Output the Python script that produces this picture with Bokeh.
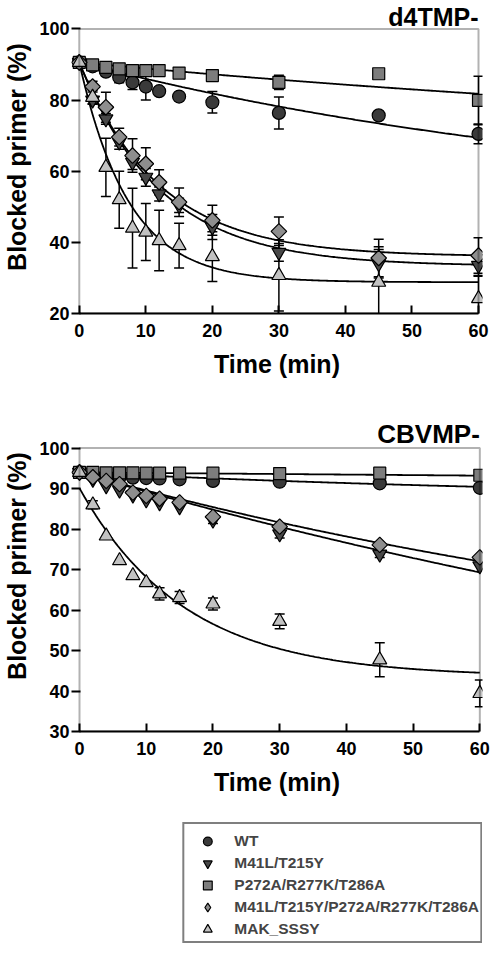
import numpy as np
from bokeh.plotting import figure
from bokeh.models import (Range1d, FixedTicker, Label,
                          Legend, LegendItem, BoxAnnotation)
from bokeh.layouts import column
from bokeh.embed import file_html
from bokeh.resources import INLINE

# ---------------- data ----------------
time_min = [0, 2, 4, 6, 8, 10, 12, 15, 20, 30, 45, 60]
series_names = ["WT", "M41L/T215Y", "P272A/R277K/T286A",
                "M41L/T215Y/P272A/R277K/T286A", "MAK_SSSY"]

# d4TMP- panel (blocked primer %)
d4_wt = [90.6, 89.5, 88.0, 86.4, 85.0, 83.8, 82.5, 81.0, 79.4, 76.4, 75.7, 70.5]
d4_wt_err = [0, 0.5, 1.0, 1.5, 2.0, 3.8, 1.0, 1.0, 3.0, 4.5, 1.0, 2.8]
d4_m41l = [90.6, 80.0, 74.7, 68.2, 62.5, 58.3, 53.6, 50.4, 44.3, 37.2, 34.0, 33.5]
d4_m41l_err = [0, 1.0, 1.5, 2.0, 2.0, 2.5, 2.0, 2.0, 3.5, 2.5, 4.0, 3.0]
d4_p272a = [90.6, 89.9, 89.2, 88.8, 88.3, 88.3, 88.3, 87.6, 86.9, 85.0, 87.4, 79.9]
d4_p272a_err = [0, 0.8, 1.5, 1.0, 1.0, 1.0, 0.8, 0.8, 1.5, 2.0, 0.5, 6.8]
d4_quint = [90.6, 83.8, 78.0, 69.6, 64.4, 62.1, 56.9, 51.3, 46.2, 43.1, 35.6, 36.3]
d4_quint_err = [0, 1.5, 4.2, 2.5, 4.7, 4.5, 3.5, 4.0, 4.2, 4.0, 5.3, 5.0]
d4_mak = [90.6, 80.8, 61.1, 52.0, 44.0, 42.9, 40.5, 39.1, 36.0, 30.7, 28.8, 24.2]
d4_mak_err = [0, 2.0, 8.2, 8.0, 11.2, 8.0, 8.5, 6.3, 7.0, 10.0, 10.0, 6.5]

# CBVMP- panel
cbv_wt = [94.0, 93.6, 93.0, 92.8, 92.7, 92.6, 92.5, 92.3, 91.9, 91.7, 91.3, 90.2]
cbv_wt_err = [0] * 12
cbv_m41l = [94.0, 92.3, 90.7, 89.6, 88.4, 87.2, 86.5, 85.5, 82.2, 78.8, 73.8, 70.9]
cbv_m41l_err = [0, 0, 0, 0, 0, 0, 0, 0, 0.8, 1.0, 0.8, 0]
cbv_p272a = [94.0, 94.0, 93.9, 93.9, 93.9, 93.8, 93.8, 93.8, 93.8, 93.7, 93.8, 93.3]
cbv_p272a_err = [0] * 12
cbv_quint = [94.0, 92.8, 91.9, 91.1, 89.0, 88.2, 87.5, 86.6, 83.0, 80.6, 76.1, 73.0]
cbv_quint_err = [0] * 12
cbv_mak = [94.0, 86.0, 78.3, 72.2, 68.5, 66.8, 64.0, 63.1, 61.5, 57.2, 47.7, 39.4]
cbv_mak_err = [0, 1.0, 0, 0, 0, 0, 1.5, 1.5, 1.5, 1.8, 4.2, 3.3]

# single-exponential fit curves: plateau + span * exp(-rate * t)
d4_fit_plateau = [47.8, 33.3, 63.6, 36.0, 28.8]
d4_fit_span = [42.8, 57.3, 27.0, 54.6, 61.8]
d4_fit_rate = [0.0114, 0.081, 0.0066, 0.083, 0.135]
cbv_fit_plateau = [86.8, 10.0, 74.0, 38.0, 43.5]
cbv_fit_span = [7.2, 84.0, 20.0, 56.0, 46.6]
cbv_fit_rate = [0.0114, 0.0058, 0.00068, 0.0083, 0.0636]

x_ticks = [0, 10, 20, 30, 40, 50, 60]
d4_y_ticks = [20, 40, 60, 80, 100]
cbv_y_ticks = [30, 40, 50, 60, 70, 80, 90, 100]

# ---------------- styles ----------------
FONT = "Liberation Sans"
markers = [
    dict(marker="circle", fill_color="#3a3a3a", size=13, angle=0.0),
    dict(marker="inverted_triangle", fill_color="#484848", size=14, angle=0.0),
    dict(marker="square", fill_color="#7d7d7d", size=12, angle=0.0),
    dict(marker="square", fill_color="#8e8e8e", size=11, angle=np.pi / 4),
    dict(marker="triangle", fill_color="#c2c2c2", size=14, angle=0.0),
]


def make_panel(title, xr, ylo, ytop, yticks, vals, errs, plateau, span, rate,
               height, b_left, b_bottom, title_dy, title_size):
    p = figure(width=492, height=height,
               x_range=Range1d(*xr), y_range=Range1d(ylo, ytop),
               output_backend="svg", toolbar_location=None,
               min_border=0,
               min_border_left=b_left, min_border_right=0,
               min_border_top=0, min_border_bottom=b_bottom)
    p.grid.visible = False
    p.outline_line_color = None
    p.background_fill_color = "white"

    xa = p.xaxis[0]
    xa.ticker = FixedTicker(ticks=x_ticks)
    xa.bounds = (0, 60)
    xa.axis_line_width = 2
    xa.axis_line_color = "black"
    xa.major_tick_in = 8
    xa.major_tick_out = 0
    xa.major_tick_line_width = 2
    xa.minor_tick_line_color = None
    xa.major_label_standoff = 10
    xa.axis_label = "Time (min)"
    xa.axis_label_standoff = 10

    ya = p.yaxis[0]
    ya.ticker = FixedTicker(ticks=yticks)
    ya.bounds = (ylo, 100)
    ya.axis_line_color = None
    ya.major_tick_in = 9
    ya.major_tick_out = 0
    ya.major_tick_line_width = 2
    ya.minor_tick_line_color = None
    ya.major_label_standoff = 2
    ya.axis_label = "Blocked primer (%)"
    ya.axis_label_standoff = 5

    for ax in (xa, ya):
        ax.major_label_text_font = FONT
        ax.major_label_text_font_style = "bold"
        ax.major_label_text_font_size = "18px"
        ax.major_label_text_color = "black"
        ax.axis_label_text_font = FONT
        ax.axis_label_text_font_style = "bold"
        ax.axis_label_text_font_size = "25px"
        ax.axis_label_text_color = "black"

    # plot box at the axis limits
    p.add_layout(BoxAnnotation(left=0, right=60, bottom=ylo, top=100,
                               fill_alpha=0, fill_color=None,
                               line_color="black", line_width=2))

    # error bars
    for v, e in zip(vals, errs):
        t = [tt for tt, ee in zip(time_min, e) if ee > 0]
        lo = [vv - ee for vv, ee in zip(v, e) if ee > 0]
        hi = [vv + ee for vv, ee in zip(v, e) if ee > 0]
        if not t:
            continue
        p.segment(x0=t, y0=lo, x1=t, y1=hi, line_color="black", line_width=1.5)
        p.scatter(x=t + t, y=lo + hi, marker="dash", size=10,
                  line_color="black", line_width=1.5)

    # fit curves
    t_fit = np.linspace(0, 60, 241)
    for pl, sp, k in zip(plateau, span, rate):
        p.line(t_fit, pl + sp * np.exp(-k * t_fit), line_color="black",
               line_width=1.8)

    # data points
    for v, st in zip(vals, markers):
        p.scatter(x=time_min, y=v, marker=st["marker"], size=st["size"],
                  angle=st["angle"], fill_color=st["fill_color"],
                  line_color="black", line_width=1.2)

    p.add_layout(Label(x=60, y=100, text=title, text_align="right",
                       text_baseline="alphabetic", y_offset=title_dy,
                       text_font=FONT, text_font_style="bold",
                       text_font_size=title_size, text_color="black"))
    return p


p1 = make_panel("d4TMP-", (-1.17, 60.6), 20, 108.0, d4_y_ticks,
                [d4_wt, d4_m41l, d4_p272a, d4_quint, d4_mak],
                [d4_wt_err, d4_m41l_err, d4_p272a_err, d4_quint_err, d4_mak_err],
                d4_fit_plateau, d4_fit_span, d4_fit_rate,
                height=400, b_left=69, b_bottom=87,
                title_dy=12, title_size="25px")

p2 = make_panel("CBVMP-", (-1.2, 60.4), 30, 111.76, cbv_y_ticks,
                [cbv_wt, cbv_m41l, cbv_p272a, cbv_quint, cbv_mak],
                [cbv_wt_err, cbv_m41l_err, cbv_p272a_err, cbv_quint_err, cbv_mak_err],
                cbv_fit_plateau, cbv_fit_span, cbv_fit_rate,
                height=410, b_left=71, b_bottom=79,
                title_dy=14, title_size="26px")

# legend panel
p3 = figure(width=492, height=139, x_range=Range1d(0, 1), y_range=Range1d(0, 1),
            output_backend="svg", toolbar_location=None,
            x_axis_type=None, y_axis_type=None, min_border=0,
            min_border_left=0, min_border_right=10,
            min_border_top=0, min_border_bottom=6)
p3.grid.visible = False
p3.outline_line_color = None
legend_markers = [dict(st) for st in markers]
legend_markers[3].update(marker="diamond", size=16, angle=0.0)
items = []
for name, v, st in zip(series_names, [d4_wt, d4_m41l, d4_p272a, d4_quint, d4_mak],
                       legend_markers):
    r = p3.scatter(x=time_min, y=v, marker=st["marker"], size=st["size"],
                   angle=st["angle"], fill_color=st["fill_color"],
                   line_color="black", line_width=1.2)
    items.append(LegendItem(label=name, renderers=[r]))
legend = Legend(items=items, location="bottom_right", margin=0,
                orientation="vertical",
                border_line_color="black", border_line_width=2,
                background_fill_color="white", padding=1, spacing=0,
                glyph_width=44, glyph_height=22, label_height=22,
                label_standoff=5, label_text_font=FONT,
                label_text_font_style="bold", label_text_font_size="15.5px",
                title=" ", title_text_font_size="4px", title_standoff=0)
p3.add_layout(legend, "center")

layout = column(p1, p2, p3, spacing=0)
open("out.html", "w").write(file_html(layout, INLINE))
